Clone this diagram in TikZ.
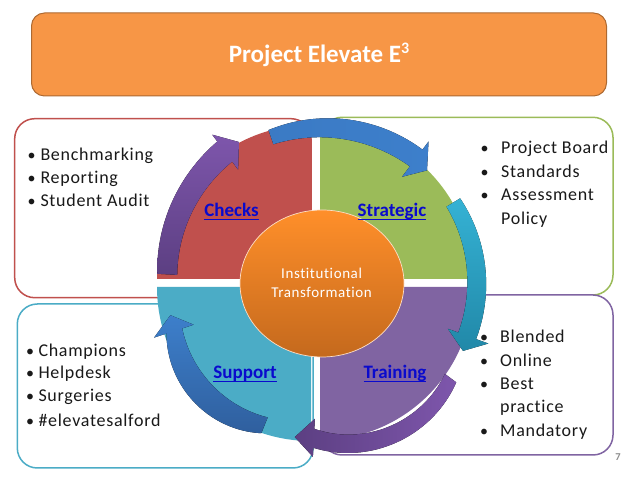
\documentclass[tikz,border=0pt]{standalone}
\usepackage{fontspec}
\usetikzlibrary{shapes.geometric}
\setmainfont[LetterSpace=4,Ligatures=NoCommon]{Carlito}
\newfontfamily\tight{Carlito}
\definecolor{cRed}{HTML}{C0504D}
\definecolor{cGreen}{HTML}{9BBB59}
\definecolor{cPurple}{HTML}{8064A2}
\definecolor{cTeal}{HTML}{4BACC6}
\definecolor{cOrange}{HTML}{F79646}
\definecolor{cLink}{HTML}{0A0ACD}
\definecolor{blueA}{HTML}{3D7FCB}
\definecolor{blueB}{HTML}{2F5F9E}
\definecolor{tealA}{HTML}{35B2D4}
\definecolor{tealB}{HTML}{2188A8}
\definecolor{purpA}{HTML}{7E56AC}
\definecolor{purpB}{HTML}{5C3F82}
\definecolor{hubA}{HTML}{FF8F2A}
\definecolor{hubB}{HTML}{C4691D}
\newcommand\linked[1]{\setbox0\hbox{#1}\rlap{\rule[-2.6pt]{\wd0}{1pt}}\box0}
% tail angle, head angle, outer r at tail, at head, mid bulge, inner r at tail, at head, mid bulge
\newcommand\band[8]{\def\aT{#1}\def\aH{#2}\def\oT{#3}\def\oH{#4}\def\oB{#5}\def\iT{#6}\def\iH{#7}\def\iB{#8}}
% options, barb outer r, barb inner r, barb angle, tip angle:r
\newcommand\blockarrow[5]{%
  \fill[#1] plot[smooth,domain=\aT:\aH,samples=40] (\x:{\oT+(\oH-\oT)*(\x-\aT)/(\aH-\aT)+4*\oB*(\x-\aT)/(\aH-\aT)*(1-(\x-\aT)/(\aH-\aT))})
    -- (#4:#2) -- (#5) -- (#4:#3)
    -- plot[smooth,domain=\aH:\aT,samples=40] (\x:{\iT+(\iH-\iT)*(\x-\aT)/(\aH-\aT)+4*\iB*(\x-\aT)/(\aH-\aT)*(1-(\x-\aT)/(\aH-\aT))}) -- cycle;}
\tikzset{
  listbox/.style={line width=1.5pt,fill=white,rounded corners=20pt},
  item/.style={anchor=base west,inner sep=0pt,font=\fontsize{18}{20}\selectfont,text=black!90},
  dot/.style={anchor=base,inner sep=0pt,font=\tight\fontsize{16}{20}\selectfont,text=black!90},
  linklabel/.style={anchor=base,inner sep=0pt,font=\tight\bfseries\fontsize{19}{22}\selectfont,text=cLink},
}
\begin{document}
\begin{tikzpicture}[x=1pt,y=1pt]
\useasboundingbox (0,0) rectangle (638,479);
% title
\node[draw=cOrange!70!black,fill=cOrange,line width=1pt,rounded corners=13pt,minimum width=575pt,minimum height=83pt,inner sep=0pt] (title) at (319,424.5) {};
\node[inner sep=0pt,text=white,anchor=base,font=\tight\bfseries\fontsize{25}{28}\selectfont] (titletext) at (319,416.5) {Project Elevate E\raisebox{8.5pt}{\fontsize{16}{18}\selectfont 3}};
% list boxes
\draw[listbox,draw=cRed] (14.7,360.3) rectangle (311,181.3);
\draw[listbox,draw=cGreen] (322,361.7) rectangle (613,184);
\draw[listbox,draw=cPurple] (322,184) rectangle (613,24);
\draw[listbox,draw=cTeal] (17.3,175) rectangle (313,11);
% quadrants
\fill[cRed] (311,200) -- (157,200) arc (180:90:154) -- cycle;
\fill[cGreen] (320,200) -- (473,200) arc (0:90:153) -- cycle;
\fill[cPurple] (320,192) -- (320,39) arc (270:360:153) -- cycle;
\fill[cTeal] (311,192) -- (157,192) arc (180:270:154) -- cycle;
% arrows
\begin{scope}[shift={(322,196)}]
\band{176.8}{126.5}{165}{176}{0}{145}{151}{0}
\blockarrow{top color=purpA,bottom color=purpB}{184.5}{141}{126.5}{120.5:163.6}
\band{109.3}{53}{162}{167}{1}{147}{146}{-1}
\blockarrow{left color=blueA!85!blueB,right color=blueA}{177}{133}{53}{47:154}
\band{31.5}{-20}{162}{164}{1}{146}{145}{0}
\blockarrow{top color=tealA,bottom color=tealB}{177}{134}{-20}{-25.7:156.5}
\band{-36.5}{-93}{167}{165}{10}{153}{146}{9}
\blockarrow{left color=purpB,right color=purpA}{174}{136}{-93}{-100:156.5}
\band{-112}{-162}{162}{163.5}{12}{145}{147}{4}
\blockarrow{top color=blueA,bottom color=blueB}{176.5}{135}{-162}{-168:155}
\end{scope}
% centre
\node[ellipse,draw=white!70!cOrange,line width=.7pt,top color=hubA,bottom color=hubB,minimum width=164pt,minimum height=147pt,inner sep=0pt] (hub) at (322,195.5) {};
\node[inner sep=0pt,text=white,anchor=base,font=\fontsize{15}{16}\selectfont] (hubtextA) at (321.6,200) {Institutional};
\node[inner sep=0pt,text=white,anchor=base,font=\fontsize{15}{16}\selectfont] (hubtextB) at (321.6,181) {Transformation};
% quadrant labels
\node[linklabel] (checks) at (231.5,262) {\linked{Checks}};
\node[linklabel] (strategic) at (392,262) {\linked{Strategic}};
\node[linklabel] (support) at (245,100) {\linked{Support}};
\node[linklabel] (training) at (395,100) {\linked{Training}};
% left upper list
\node[dot] (b1) at (31.7,318) {•}; \node[item] (t1) at (40.3,318) {Benchmarking};
\node[dot] (b2) at (31.7,295.3) {•}; \node[item] (t2) at (40.3,295.3) {Reporting};
\node[dot] (b3) at (31.7,272) {•}; \node[item] (t3) at (40.3,272) {Student Audit};
% left lower list
\node[dot] (b4) at (30,122.3) {•}; \node[item] (t4) at (38.3,122.3) {Champions};
\node[dot] (b5) at (30,100) {•}; \node[item] (t5) at (38.3,100) {Helpdesk};
\node[dot] (b6) at (30,77) {•}; \node[item] (t6) at (38.3,77) {Surgeries};
\node[dot] (b7) at (30,52.3) {•}; \node[item] (t7) at (38.3,52.3) {\#elevatesalford};
% right upper list
\node[dot] (b8) at (484.5,325) {•}; \node[item] (t8) at (501,325) {Project Board};
\node[dot] (b9) at (484.5,301.3) {•}; \node[item] (t9) at (501,301.3) {Standards};
\node[dot] (b10) at (484.5,278) {•}; \node[item] (t10) at (501,278) {Assessment};
\node[item] (t11) at (501,254) {Policy};
% right lower list
\node[dot] (b12) at (484,136.3) {•}; \node[item] (t12) at (500,136.3) {Blended};
\node[dot] (b13) at (484,112.3) {•}; \node[item] (t13) at (500,112.3) {Online};
\node[dot] (b14) at (484,89) {•}; \node[item] (t14) at (500,89) {Best};
\node[item] (t15) at (500,66) {practice};
\node[dot] (b16) at (484,42) {•}; \node[item] (t16) at (500,42) {Mandatory};
% page number
\node[inner sep=0pt,anchor=base,text=black!45,font=\tight\bfseries\fontsize{10.5}{12}\selectfont] (pageno) at (618,18) {7};
\end{tikzpicture}
\end{document}
